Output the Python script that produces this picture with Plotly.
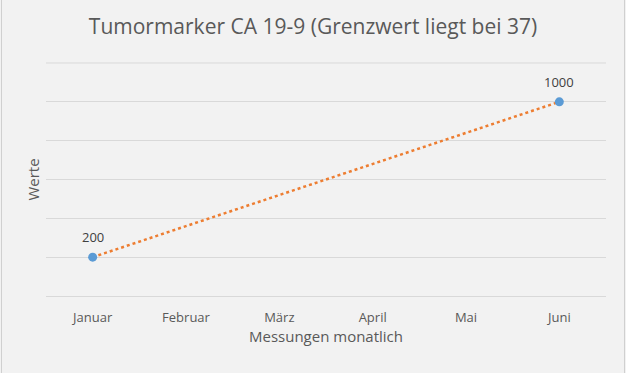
import plotly.graph_objects as go
import numpy as np

categories = ["Januar", "Februar", "März", "April", "Mai", "Juni"]
values = [200, None, None, None, None, 1000]
title_text = "Tumormarker CA 19-9 (Grenzwert liegt bei 37)"
x_title = "Messungen monatlich"
y_title = "Werte"

idx = [i for i, v in enumerate(values) if v is not None]
vals = [values[i] for i in idx]
coef = np.polyfit(idx, vals, 1)
trend_x = [categories[idx[0]], categories[idx[-1]]]
trend_y = [float(np.polyval(coef, idx[0])), float(np.polyval(coef, idx[-1]))]

fig = go.Figure()
fig.add_trace(go.Scatter(
    x=trend_x, y=trend_y, mode="lines",
    line=dict(color="#ED7D31", width=2.5, dash="dot"),
    hoverinfo="skip", showlegend=False,
))
fig.add_trace(go.Scatter(
    x=[categories[i] for i in idx], y=vals, mode="markers",
    marker=dict(color="#5B9BD5", size=9),
    showlegend=False,
))
for i, v in zip(idx, vals):
    fig.add_annotation(x=categories[i], y=v, text=str(v), showarrow=False,
                       yshift=20, font=dict(family="Open Sans, sans-serif", size=13, color="#404040"))

L, R, T, B = 46, 20, 63, 77
W, H = 626, 373
pw = W - L - R

fig.update_layout(
    width=W, height=H,
    paper_bgcolor="#F2F2F2", plot_bgcolor="#F2F2F2",
    margin=dict(l=L, r=R, t=T, b=B),
    title=dict(text=title_text, x=0.5, xanchor="center", y=1 - 27 / H, yanchor="middle",
               font=dict(family="Open Sans, sans-serif", size=21, color="#595959")),
    font=dict(family="Open Sans, sans-serif", color="#595959"),
)
fig.update_xaxes(
    type="category", categoryorder="array", categoryarray=categories,
    tickvals=categories, range=[-0.5, 5.5],
    showgrid=False, showline=True, linecolor="#D9D9D9", linewidth=1,
    ticks="", ticklabelstandoff=9, tickfont=dict(size=13, color="#595959"),
    title=dict(text=x_title, font=dict(size=15, color="#595959"), standoff=6),
    zeroline=False,
)
fig.update_yaxes(
    range=[0, 1200], dtick=200, showgrid=True, gridcolor="#D9D9D9", gridwidth=1,
    showticklabels=False, zeroline=False, showline=False,
    title=dict(text=y_title, font=dict(size=15, color="#595959"), standoff=1),
)
fig.add_shape(type="line", xref="paper", yref="paper", x0=0, x1=1, y0=1, y1=1,
              line=dict(color="#D9D9D9", width=1))
for px in (1.5, 624.5):
    xp = (px - L) / pw
    fig.add_shape(type="line", xref="paper", yref="paper", x0=xp, x1=xp,
                  y0=-B / (H - T - B), y1=1 + T / (H - T - B),
                  line=dict(color="#D0D0D0", width=1))
fig.write_html("out.html", config={"displayModeBar": False},
               post_script="document.body.style.margin='0';")
